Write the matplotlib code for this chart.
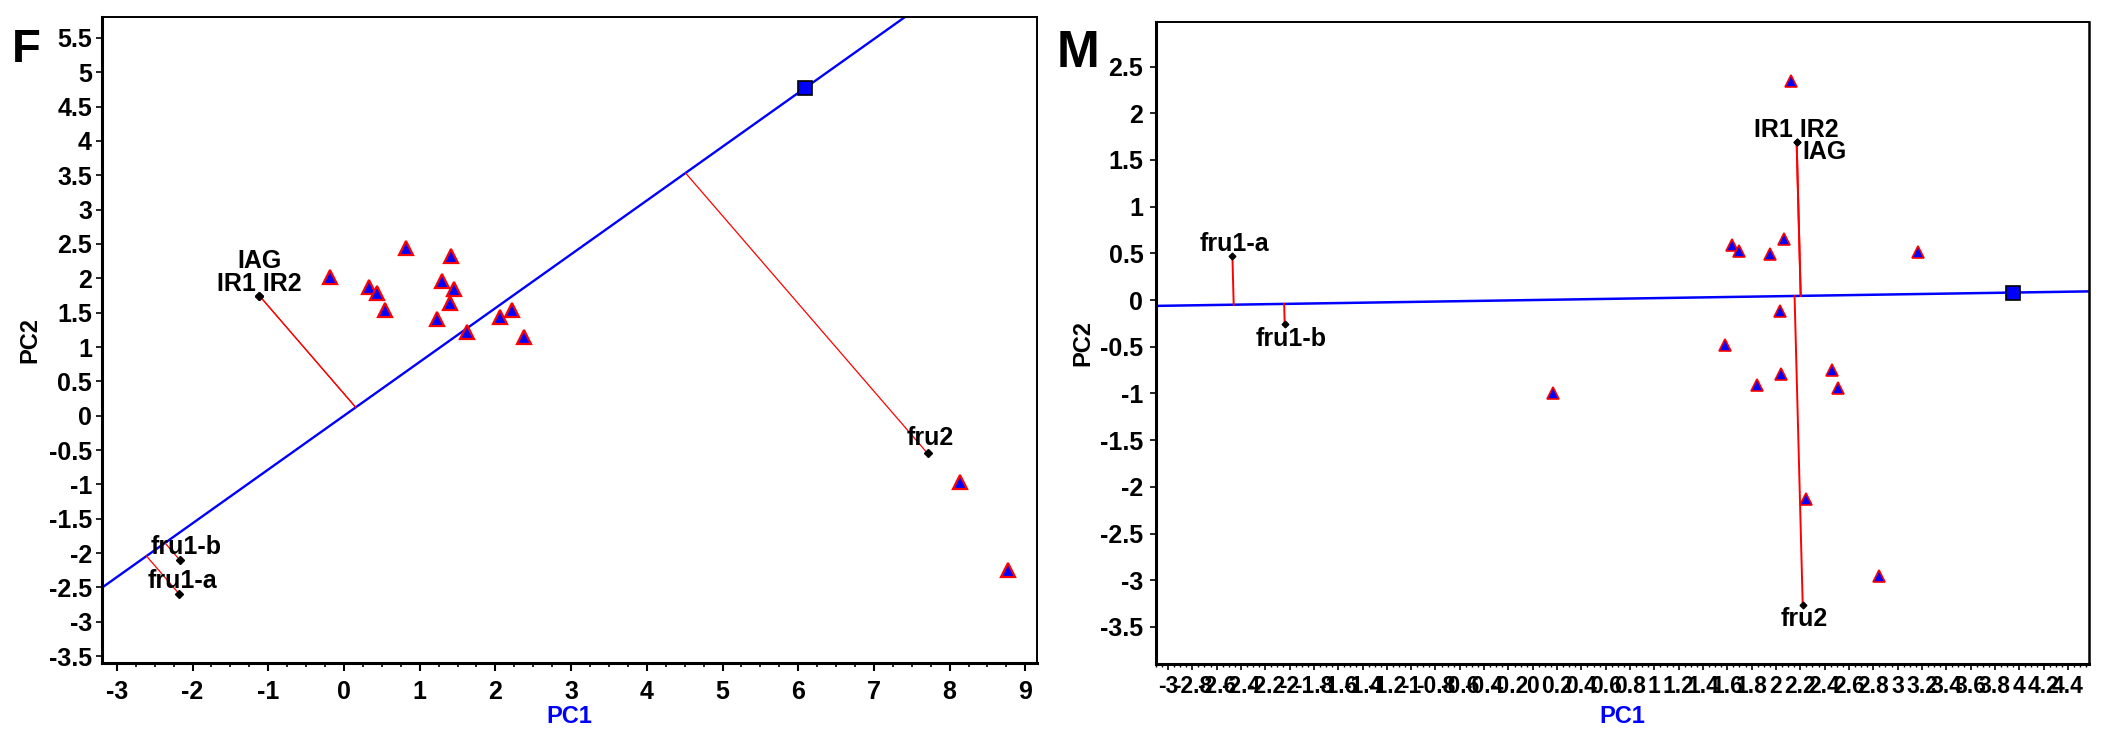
import numpy as np
import matplotlib.pyplot as plt
from matplotlib.ticker import MultipleLocator, FuncFormatter

plt.rcParams['font.family'] = ['Liberation Sans', 'DejaVu Sans']
plt.rcParams['font.weight'] = 'bold'
plt.rcParams['axes.unicode_minus'] = False

# panel F: samples (triangles), labelled objects (diamonds), loading (square)
f_tri_x = [-0.18, 0.33, 0.43, 0.54, 0.82, 1.29, 1.41, 1.45, 1.40, 1.23, 1.62, 2.06, 2.22, 2.38, 8.14, 8.77]
f_tri_y = [2.02, 1.87, 1.78, 1.54, 2.44, 1.96, 2.32, 1.85, 1.64, 1.41, 1.22, 1.44, 1.54, 1.15, -0.96, -2.25]
f_obj_labels = ['IAG', 'IR1 IR2', 'fru1-b', 'fru1-a', 'fru2']
f_obj_x = [-1.12, -1.12, -2.17, -2.18, 7.71]
f_obj_y = [1.75, 1.75, -2.10, -2.59, -0.55]
f_load = (6.09, 4.77)

# panel M
m_tri_x = [2.12, 1.64, 1.70, 1.95, 2.07, 3.17, 2.03, 1.58, 2.04, 1.84, 2.46, 2.51, 2.25, 2.85, 0.17]
m_tri_y = [2.35, 0.59, 0.53, 0.49, 0.65, 0.51, -0.12, -0.48, -0.79, -0.91, -0.75, -0.94, -2.13, -2.95, -1.00]
m_obj_labels = ['IR1 IR2', 'IAG', 'fru1-a', 'fru1-b', 'fru2']
m_obj_x = [2.17, 2.17, -2.47, -2.04, 2.22]
m_obj_y = [1.69, 1.69, 0.47, -0.26, -3.27]
m_load = (3.95, 0.08)

# label offsets in pixels (dx, dy)
f_offsets = [(0, 28), (0, 5), (6, 6), (4, 6), (3, 8)]
m_offsets = [(0, 5), (28, -17), (2, 5), (6, -22), (2, -21)]


def fmt(v, pos):
    v = round(v, 2)
    if v == 0:
        return '0'
    return f'{v:g}'


def draw_panel(ax, tri_x, tri_y, labels, ox, oy, load, offsets, tri_ms, tri_mew,
               red_lw, blue_lw, dia_ms, lab_size):
    u = np.array(load) / np.hypot(*load)
    ax.axline((0, 0), load, color='#0000ff', lw=blue_lw, zorder=2)
    for x, y in zip(ox, oy):
        d = x * u[0] + y * u[1]
        ax.plot([x, d * u[0]], [y, d * u[1]], color='#ff0000', lw=red_lw, zorder=2)
    ax.plot(tri_x, tri_y, ls='none', marker='^', ms=tri_ms, mfc='#0000ff',
            mec='#ff0000', mew=tri_mew, zorder=3)
    ax.plot(ox, oy, ls='none', marker='D', ms=dia_ms, color='black', zorder=4)
    for lab, x, y, off in zip(labels, ox, oy, offsets):
        ax.annotate(lab, (x, y), xytext=off, textcoords='offset pixels',
                    ha='center', va='baseline', fontsize=lab_size,
                    fontweight='bold', zorder=5)
    ax.plot([load[0]], [load[1]], ls='none', marker='s', ms=10, mfc='#0000ff',
            mec='black', mew=1.2, zorder=5)


fig = plt.figure(figsize=(21.07, 7.4), dpi=100)

# ---- F ----
ax1 = fig.add_axes([101.7 / 2107, 1 - 663 / 740, 935 / 2107, 645.7 / 740])
draw_panel(ax1, f_tri_x, f_tri_y, f_obj_labels, f_obj_x, f_obj_y, f_load, f_offsets,
           10, 1.6, 0.9, 1.7, 4.2, 18)
ax1.set_xlim(-3.2, 9.15)
ax1.set_ylim(-3.6, 5.8)
ax1.xaxis.set_major_locator(MultipleLocator(1))
ax1.xaxis.set_minor_locator(MultipleLocator(0.25))
ax1.yaxis.set_major_locator(MultipleLocator(0.5))
ax1.xaxis.set_major_formatter(FuncFormatter(fmt))
ax1.yaxis.set_major_formatter(FuncFormatter(fmt))
ax1.tick_params(axis='x', which='major', length=6, width=1.5, labelsize=18, pad=6)
ax1.tick_params(axis='x', which='minor', length=3, width=1.2)
ax1.tick_params(axis='y', which='major', length=4, width=1.2, labelsize=18, pad=3)
ax1.set_xlabel('PC1', fontsize=17, color='#0000ff', fontweight='bold')
ax1.set_ylabel('PC2', fontsize=17, fontweight='bold')
ax1.xaxis.set_label_coords(0.5, -0.065)
ax1.yaxis.set_label_coords(-0.064, 0.5)
for side, lw in [('left', 2.2), ('bottom', 2.2), ('top', 1.4), ('right', 1.4)]:
    ax1.spines[side].set_linewidth(lw)

# ---- M ----
ax2 = fig.add_axes([1155.8 / 2107, 1 - 664.3 / 740, 932.7 / 2107, 642.6 / 740])
draw_panel(ax2, m_tri_x, m_tri_y, m_obj_labels, m_obj_x, m_obj_y, m_load, m_offsets,
           8.5, 1.2, 1.4, 1.8, 3.4, 18)
ax2.set_xlim(-3.1, 4.57)
ax2.set_ylim(-3.9, 2.98)
ax2.xaxis.set_major_locator(MultipleLocator(0.2))
ax2.xaxis.set_minor_locator(MultipleLocator(0.05))
ax2.yaxis.set_major_locator(MultipleLocator(0.5))
ax2.xaxis.set_major_formatter(FuncFormatter(fmt))
ax2.yaxis.set_major_formatter(FuncFormatter(fmt))
ax2.tick_params(axis='x', which='major', length=4, width=1.2, labelsize=16.5, pad=4)
ax2.tick_params(axis='x', which='minor', length=2.5, width=1.0)
ax2.tick_params(axis='y', which='major', length=4, width=1.2, labelsize=18, pad=5)
ax2.set_xlabel('PC1', fontsize=17, color='#0000ff', fontweight='bold')
ax2.set_ylabel('PC2', fontsize=17, fontweight='bold')
ax2.xaxis.set_label_coords(0.5, -0.063)
ax2.yaxis.set_label_coords(-0.066, 0.5)
for side, lw in [('left', 2.2), ('bottom', 2.2), ('top', 1.4), ('right', 1.8)]:
    ax2.spines[side].set_linewidth(lw)

fig.text(12 / 2107, 1 - 62 / 740, 'F', fontsize=34, fontweight='bold', va='baseline')
fig.text(1057 / 2107, 1 - 67 / 740, 'M', fontsize=37, fontweight='bold', va='baseline')

fig.savefig('out.png', dpi=100)
